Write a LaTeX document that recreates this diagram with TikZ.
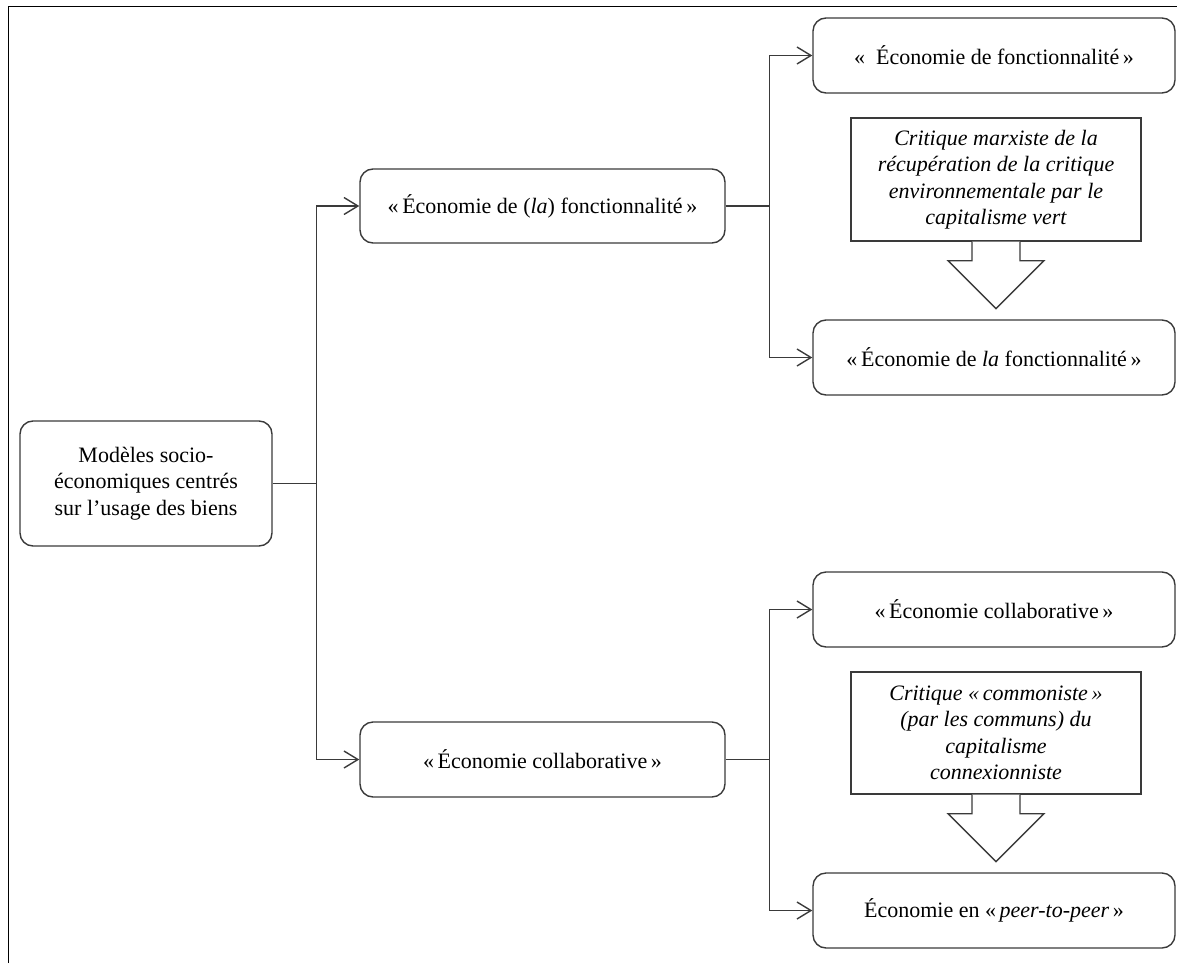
\documentclass[tikz,border=0pt]{standalone}
\usepackage{fontspec}
\setmainfont{Liberation Serif}
\usetikzlibrary{arrows.meta,calc}
\definecolor{linec}{HTML}{3A3A3A}
\newcommand{\bigtxt}{\fontsize{22}{26.5}\selectfont}
\tikzset{
  rbox/.style={draw=linec, line width=1.4pt, rounded corners=13pt, align=center, inner sep=0pt, font=\bigtxt},
  cbox/.style={draw=linec, line width=1.4pt, align=center, inner sep=0pt, font=\bigtxt\itshape},
  conn/.style={draw=linec, line width=1.4pt},
  arr/.style={conn, -{Straight Barb[length=14pt,width=17pt,line width=1.4pt]}},
  callarrow/.style={draw=linec, line width=1.4pt, fill=white, line join=miter},
}
\begin{document}
\begin{tikzpicture}[x=1pt,y=-1pt]
\useasboundingbox (0,0) rectangle (1177,963);
\draw[line width=1.6pt] (8.5,963) -- (8.5,6.5) -- (1177,6.5);

\node[rbox, minimum width=252pt, minimum height=125pt] (root) at (146,483.5)
  {Modèles socio-\\économiques centrés\\sur l’usage des biens};
\node[rbox, minimum width=365pt, minimum height=74pt] (m1) at (542.5,206)
  {«\,Économie de (\textit{la}) fonctionnalité\,»};
\node[rbox, minimum width=365pt, minimum height=75pt] (m2) at (542.5,759.5)
  {«\,Économie collaborative\,»};

\node[rbox, minimum width=362pt, minimum height=75pt] (r1) at (994,55.5)
  {«~~Économie de fonctionnalité\,»};
\node[rbox, minimum width=362pt, minimum height=75pt] (r2) at (994,357.5)
  {«\,Économie de \textit{la} fonctionnalité\,»};
\node[rbox, minimum width=362pt, minimum height=75pt] (r3) at (994,609.5)
  {«\,Économie collaborative\,»};
\node[rbox, minimum width=362pt, minimum height=75pt] (r4) at (994,910.5)
  {Économie en «\,\textit{peer-to-peer}\,»};

\node[cbox, minimum width=290pt, minimum height=123pt] (c1) at (996,179.5)
  {Critique marxiste de la\\récupération de la critique\\environnementale par le\\capitalisme vert};
\node[cbox, minimum width=290pt, minimum height=122pt] (c2) at (996,733)
  {Critique «\,commoniste\,»\\(par les communs) du\\capitalisme\\connexionniste};

% callout arrows
\draw[callarrow] ($(c1.south)+(-24,0)$) -- ++(0,19) -- ++(-24,0) -- ($(c1.south)+(0,67)$)
  -- ($(c1.south)+(48,19)$) -- ++(-24,0) -- ($(c1.south)+(24,0)$);
\draw[callarrow] ($(c2.south)+(-24,0)$) -- ++(0,19) -- ++(-24,0) -- ($(c2.south)+(0,67)$)
  -- ($(c2.south)+(48,19)$) -- ++(-24,0) -- ($(c2.south)+(24,0)$);

% connectors
\draw[conn] (root.east) -- ++(44,0) coordinate (j0);
\draw[arr] (j0) |- (m1.west);
\draw[arr] (j0) |- (m2.west);
\draw[conn] (m1.east) -- ++(44,0) coordinate (j1);
\draw[arr] (j1) |- (r1.west);
\draw[arr] (j1) |- (r2.west);
\draw[conn] (m2.east) -- ++(44,0) coordinate (j2);
\draw[arr] (j2) |- (r3.west);
\draw[arr] (j2) |- (r4.west);
\end{tikzpicture}
\end{document}
